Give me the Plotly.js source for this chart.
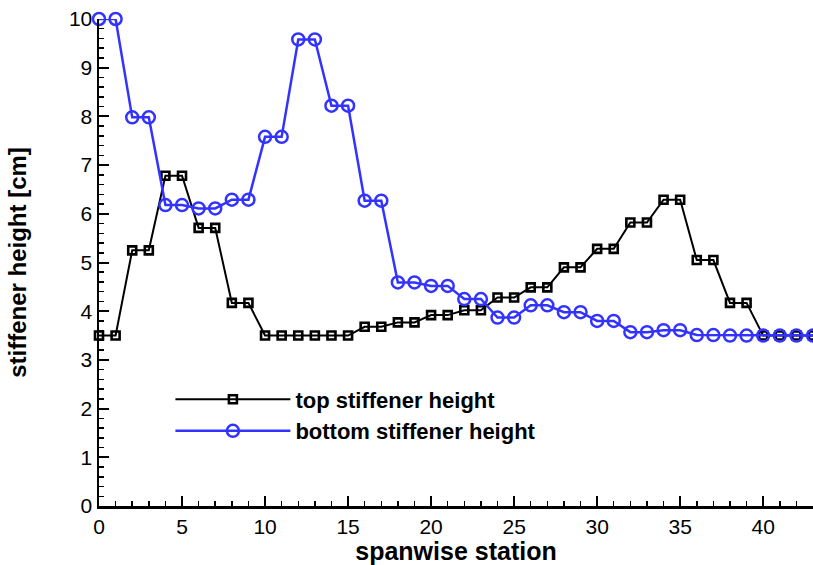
<!DOCTYPE html>
<html>
<head>
<meta charset="utf-8">
<script src="https://cdn.plot.ly/plotly-3.0.1.min.js"></script>
<style>html,body{margin:0;padding:0;background:#fff;}#chart{width:813px;height:565px;}</style>
</head>
<body>
<div id="chart"></div>
<script>
const stations = [0,1,2,3,4,5,6,7,8,9,10,11,12,13,14,15,16,17,18,19,20,21,22,23,24,25,26,27,28,29,30,31,32,33,34,35,36,37,38,39,40,41,42,43];
const topHeight = [3.5,3.5,5.25,5.25,6.78,6.78,5.71,5.71,4.17,4.17,3.5,3.5,3.5,3.5,3.5,3.5,3.68,3.68,3.77,3.77,3.92,3.92,4.02,4.02,4.28,4.28,4.49,4.49,4.9,4.9,5.28,5.28,5.82,5.82,6.29,6.29,5.05,5.05,4.17,4.17,3.5,3.5,3.5,3.5];
const bottomHeight = [10,10,7.98,7.98,6.18,6.18,6.11,6.11,6.29,6.29,7.58,7.58,9.58,9.58,8.22,8.22,6.27,6.27,4.59,4.59,4.52,4.52,4.25,4.25,3.87,3.87,4.12,4.12,3.98,3.98,3.8,3.8,3.57,3.57,3.61,3.61,3.51,3.51,3.5,3.5,3.5,3.5,3.5,3.5];
const seriesNames = ["top stiffener height","bottom stiffener height"];
const xTitle = "spanwise station";
const yTitle = "stiffener height [cm]";

const FONT = "Liberation Sans, Arial, Helvetica, sans-serif";

const traces = [
  {x: stations, y: topHeight, name: seriesNames[0], type: "scatter", mode: "lines+markers",
   cliponaxis: false,
   line: {color: "#000000", width: 2},
   marker: {symbol: "square-open", size: 8, color: "#000000", line: {color: "#000000", width: 2.6}}},
  {x: stations, y: bottomHeight, name: seriesNames[1], type: "scatter", mode: "lines+markers",
   cliponaxis: false,
   line: {color: "#3333ff", width: 2.5},
   marker: {symbol: "circle-open", size: 12, color: "#3333ff", line: {color: "#3333ff", width: 2.5}}}
];

const layout = {
  width: 813, height: 565,
  margin: {l: 99, r: 0, t: 19, b: 59},
  paper_bgcolor: "#fff", plot_bgcolor: "#fff",
  font: {family: FONT, color: "#000", size: 21},
  showlegend: true,
  legend: {x: 0.1, y: 0.262, xanchor: "left", yanchor: "top", bgcolor: "rgba(0,0,0,0)",
           itemwidth: 115, font: {family: FONT, size: 22, color: "#000", weight: "bold"},
           tracegroupgap: 0},
  xaxis: {range: [0, 43], dtick: 5, tick0: 0, showgrid: false, zeroline: false,
          showline: true, linecolor: "#000", linewidth: 2.5,
          ticks: "inside", ticklen: 10, tickwidth: 2, tickcolor: "#000",
          minor: {dtick: 1, ticks: "inside", ticklen: 5, tickwidth: 1.5, tickcolor: "#000", showgrid: false},
          tickfont: {family: FONT, size: 21, color: "#000"},
          title: {text: xTitle, font: {family: FONT, size: 25, color: "#000", weight: "bold"}, standoff: 4}},
  yaxis: {range: [0, 10], dtick: 1, tick0: 0, showgrid: false, zeroline: false,
          showline: true, linecolor: "#000", linewidth: 2.5,
          ticks: "inside", ticklen: 10, tickwidth: 2, tickcolor: "#000",
          minor: {dtick: 0.2, ticks: "inside", ticklen: 5, tickwidth: 1.5, tickcolor: "#000", showgrid: false},
          tickfont: {family: FONT, size: 21, color: "#000"},
          title: {text: yTitle, font: {family: FONT, size: 24, color: "#000", weight: "bold"}, standoff: 36}}
};

Plotly.newPlot("chart", traces, layout, {displayModeBar: false, staticPlot: true});
</script>
</body>
</html>
